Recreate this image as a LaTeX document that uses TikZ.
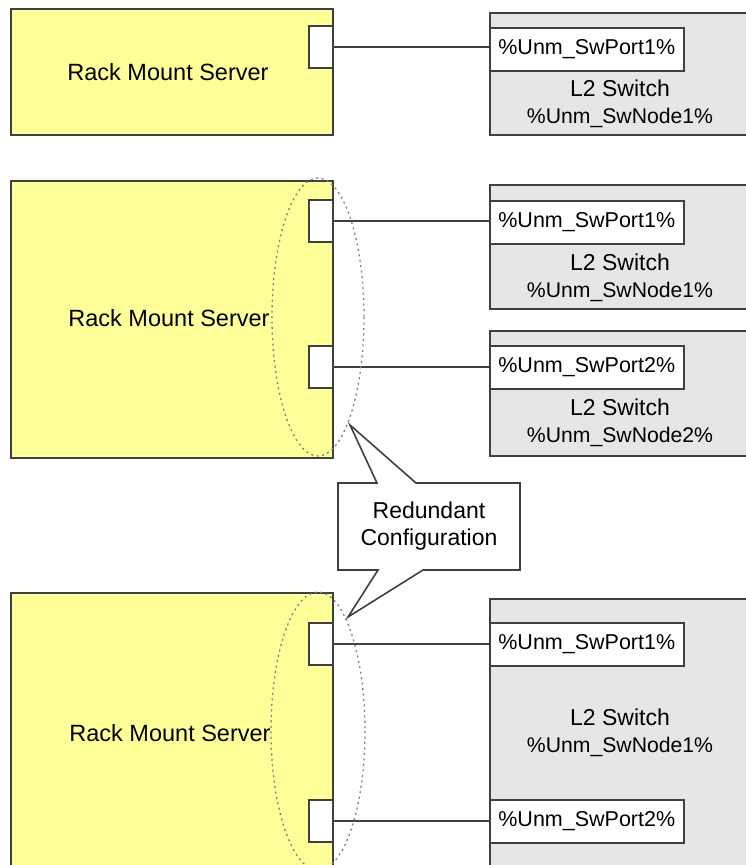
\documentclass[tikz,border=0pt]{standalone}
\usepackage{fontspec}
\setmainfont{Liberation Sans}
\definecolor{lineC}{HTML}{404040}
\definecolor{srvY}{HTML}{FFFF99}
\definecolor{swG}{HTML}{E6E6E6}
\definecolor{ellC}{HTML}{808080}
\newcommand{\swnodefont}{\fontsize{21.2}{26}\selectfont}
\begin{document}
\begin{tikzpicture}[x=1pt,y=-1pt,
  server/.style={draw=lineC, fill=srvY, line width=1.6pt, minimum width=322pt, anchor=north west, inner sep=0pt},
  srvport/.style={draw=lineC, fill=white, line width=1.6pt, minimum width=24pt, minimum height=42pt, anchor=north west, inner sep=0pt},
  switchbox/.style={draw=lineC, fill=swG, line width=1.6pt, minimum width=260pt, anchor=north west, inner sep=0pt},
  portlabel/.style={draw=lineC, fill=white, line width=1.6pt, minimum width=194pt, minimum height=43pt, anchor=north west, inner sep=0pt, font=\fontsize{21.5}{24}\selectfont},
  srvtext/.style={font=\fontsize{23.5}{27}\selectfont, text=black},
  swtext/.style={font=\fontsize{23}{27}\selectfont, align=center, text=black},
  link/.style={draw=lineC, line width=1.6pt},
  redund/.style={draw=ellC, line width=1.3pt, dash pattern=on 2pt off 3.5pt},
  bubble/.style={draw=lineC, fill=white, line width=1.6pt, line join=miter}
]
\useasboundingbox (0,0) rectangle (745,865);

% ---------- Group 1 ----------
\node[server, minimum height=126pt] (s1) at (10,8) {};
\node[srvtext] (s1t) at (168,72) {Rack Mount Server};
\node[srvport] (s1p1) at (308,25) {};
\node[switchbox, minimum height=122pt] (w1) at (489,12) {};
\node[portlabel] (w1p1) at (489,27) {\%Unm\_SwPort1\%};
\node[swtext] (w1t) at (620,104) {L2 Switch\\{\swnodefont\%Unm\_SwNode1\%}};
\draw[link] (s1p1.east) -- (w1p1.west |- s1p1.east);

% ---------- Group 2 ----------
\node[server, minimum height=277pt] (s2) at (10,180) {};
\node[srvtext] (s2t) at (169,318) {Rack Mount Server};
\node[srvport] (s2p1) at (308,199) {};
\node[srvport] (s2p2) at (308,345) {};
\node[switchbox, minimum height=124pt] (w2) at (489,184) {};
\node[portlabel] (w2p1) at (489,200) {\%Unm\_SwPort1\%};
\node[swtext] (w2t) at (620,278) {L2 Switch\\{\swnodefont\%Unm\_SwNode1\%}};
\node[switchbox, minimum height=125pt] (w3) at (489,330) {};
\node[portlabel] (w3p2) at (489,345) {\%Unm\_SwPort2\%};
\node[swtext] (w3t) at (620,423) {L2 Switch\\{\swnodefont\%Unm\_SwNode2\%}};
\draw[link] (s2p1.east) -- (w2p1.west |- s2p1.east);
\draw[link] (s2p2.east) -- (w3p2.west |- s2p2.east);
\draw[redund] (318,317) ellipse [x radius=46, y radius=139];

% ---------- Group 3 ----------
\node[server, minimum height=290pt] (s3) at (10,592) {};
\node[srvtext] (s3t) at (170,733) {Rack Mount Server};
\node[srvport] (s3p1) at (308,622) {};
\node[srvport] (s3p2) at (308,799) {};
\node[switchbox, minimum height=290pt] (w4) at (489,598) {};
\node[portlabel] (w4p1) at (489,622) {\%Unm\_SwPort1\%};
\node[portlabel] (w4p2) at (489,799) {\%Unm\_SwPort2\%};
\node[swtext] (w4t) at (620,733) {L2 Switch\\{\swnodefont\%Unm\_SwNode1\%}};
\draw[link] (s3p1.east) -- (w4p1.west |- s3p1.east);
\draw[link] (s3p2.east) -- (w4p2.west |- s3p2.east);
\draw[redund] (318,731) ellipse [x radius=47, y radius=139];

% ---------- Callout ----------
\coordinate (tipA) at (350,425);
\coordinate (tipB) at (348,617);
\draw[bubble] (338,483) -- (377,483) -- (tipA) -- (416,483) -- (520,483)
  -- (520,570) -- (423,570) -- (tipB) -- (378,570) -- (338,570) -- cycle;
\node[swtext] (calltext) at (429,526) {Redundant\\Configuration};
\end{tikzpicture}
\end{document}
